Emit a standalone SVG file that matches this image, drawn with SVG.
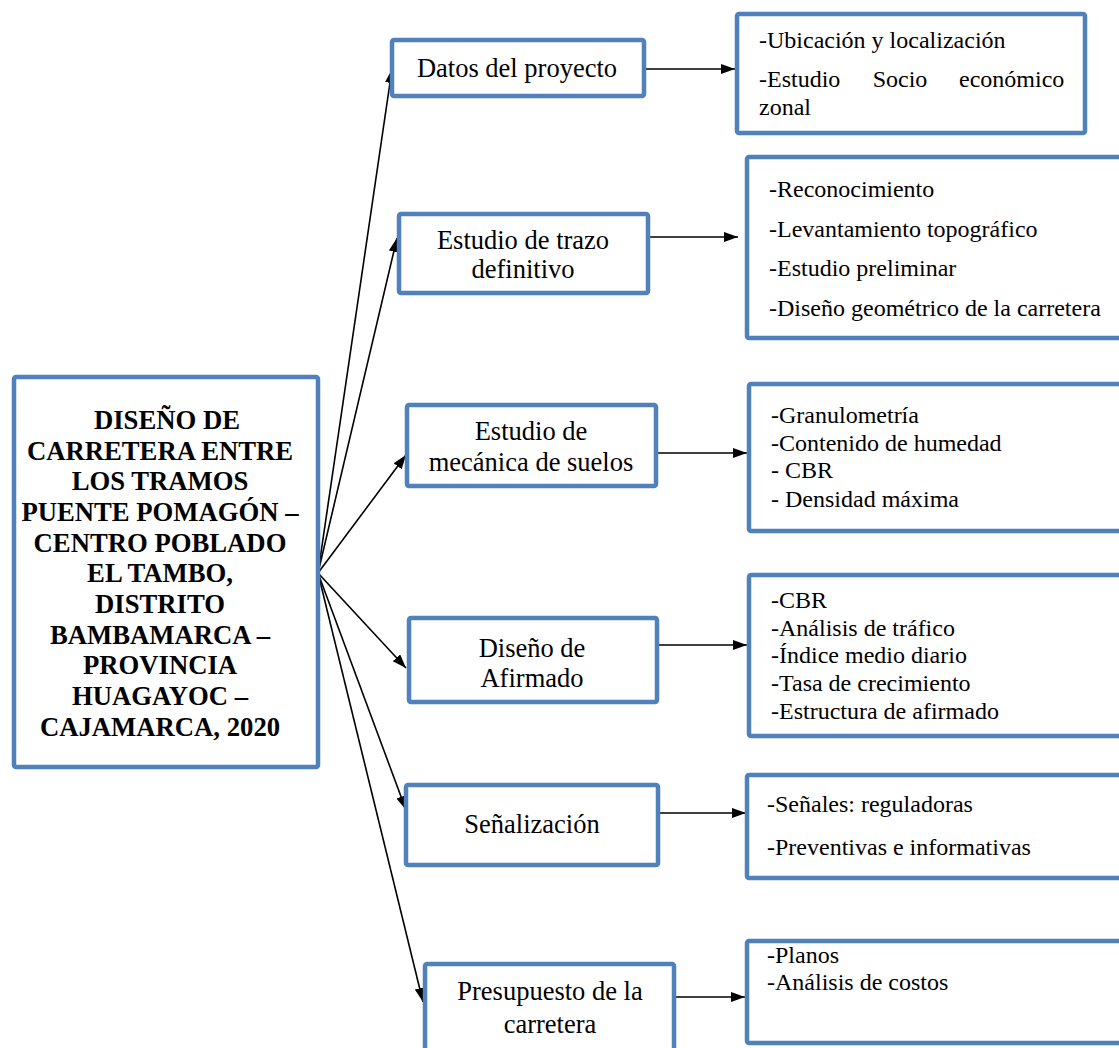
<svg xmlns="http://www.w3.org/2000/svg" width="1119" height="1048" viewBox="0 0 1119 1048">
<style>
.box{fill:#fff;stroke:#4F81BD;stroke-width:4.5}
.t{font-family:"Liberation Serif","Times New Roman",serif;fill:#000}
.main{font-size:26.7px;font-weight:bold;text-anchor:middle}
.mid{font-size:26.5px;text-anchor:middle}
.sm{font-size:24px}
.c{stroke:#000;stroke-width:1.6;fill:none;marker-end:url(#ah)}
</style>
<defs>
<marker id="ah" markerUnits="userSpaceOnUse" markerWidth="15" markerHeight="11" refX="14" refY="5" orient="auto">
<path d="M0,0 L14,5 L0,10 z" fill="#000"/>
</marker>
</defs>
<rect width="1119" height="1048" fill="#fff"/>
<g id="connectors">
<line class="c" x1="318" y1="573" x2="392" y2="69"/>
<line class="c" x1="318" y1="573" x2="397" y2="238"/>
<line class="c" x1="318" y1="573" x2="406" y2="455"/>
<line class="c" x1="318" y1="573" x2="406" y2="668"/>
<line class="c" x1="318" y1="573" x2="406" y2="810"/>
<line class="c" x1="318" y1="573" x2="423" y2="1002"/>
<line class="c" x1="646" y1="69" x2="735" y2="69"/>
<line class="c" x1="650" y1="237" x2="738" y2="237"/>
<line class="c" x1="658" y1="453" x2="747" y2="453"/>
<line class="c" x1="659" y1="645" x2="747" y2="645"/>
<line class="c" x1="660" y1="813" x2="746" y2="813"/>
<line class="c" x1="676" y1="997" x2="745" y2="997"/>
</g>
<g id="main">
<rect class="box" x="14" y="377" width="304" height="390" rx="2"/>
<text class="t main"><tspan x="167" y="429">DISEÑO DE</tspan><tspan x="160" y="459.7">CARRETERA ENTRE</tspan><tspan x="160" y="490.3">LOS TRAMOS</tspan><tspan x="160" y="521">PUENTE POMAGÓN –</tspan><tspan x="160" y="551.7">CENTRO POBLADO</tspan><tspan x="160" y="582.3">EL TAMBO,</tspan><tspan x="160" y="613">DISTRITO</tspan><tspan x="160" y="643.7">BAMBAMARCA –</tspan><tspan x="160" y="674.3">PROVINCIA</tspan><tspan x="160" y="705">HUAGAYOC –</tspan><tspan x="160" y="735.7">CAJAMARCA, 2020</tspan></text>
</g>
<g id="datos">
<rect class="box" x="392" y="40" width="252" height="56" rx="2"/>
<text class="t mid" x="517" y="77">Datos del proyecto</text>
</g>
<g id="trazo">
<rect class="box" x="399" y="214" width="249" height="79" rx="2"/>
<text class="t mid"><tspan x="523" y="249">Estudio de trazo</tspan><tspan x="523" y="278">definitivo</tspan></text>
</g>
<g id="suelos">
<rect class="box" x="407" y="405" width="249" height="81" rx="2"/>
<text class="t mid"><tspan x="531" y="440">Estudio de</tspan><tspan x="531" y="471">mecánica de suelos</tspan></text>
</g>
<g id="afirmado">
<rect class="box" x="409" y="618" width="248" height="84" rx="2"/>
<text class="t mid"><tspan x="532" y="657">Diseño de</tspan><tspan x="532" y="687">Afirmado</tspan></text>
</g>
<g id="senalizacion">
<rect class="box" x="406" y="785" width="252" height="80" rx="2"/>
<text class="t mid" x="532" y="833">Señalización</text>
</g>
<g id="presupuesto">
<rect class="box" x="425" y="964" width="249" height="110" rx="2"/>
<text class="t mid"><tspan x="550" y="1000">Presupuesto de la</tspan><tspan x="550" y="1033">carretera</tspan></text>
</g>
<g id="r1">
<rect class="box" x="737" y="14" width="348" height="119" rx="2"/>
<text class="t sm"><tspan x="759" y="48">-Ubicación y localización</tspan><tspan x="759" y="87">-Estudio</tspan><tspan x="872.7" y="87">Socio</tspan><tspan x="959" y="87">económico</tspan><tspan x="759" y="115">zonal</tspan></text>
</g>
<g id="r2">
<rect class="box" x="747" y="157" width="400" height="181" rx="2"/>
<text class="t sm"><tspan x="769" y="197">-Reconocimiento</tspan><tspan x="769" y="237">-Levantamiento topográfico</tspan><tspan x="769" y="276">-Estudio preliminar</tspan><tspan x="769" y="316">-Diseño geométrico de la carretera</tspan></text>
</g>
<g id="r3">
<rect class="box" x="749" y="384" width="400" height="147" rx="2"/>
<text class="t sm"><tspan x="771" y="423">-Granulometría</tspan><tspan x="771" y="451">-Contenido de humedad</tspan><tspan x="771" y="478">- CBR</tspan><tspan x="771" y="507">- Densidad máxima</tspan></text>
</g>
<g id="r4">
<rect class="box" x="749" y="575" width="400" height="161" rx="2"/>
<text class="t sm"><tspan x="771" y="608">-CBR</tspan><tspan x="771" y="636">-Análisis de tráfico</tspan><tspan x="771" y="663">-Índice medio diario</tspan><tspan x="771" y="691">-Tasa de crecimiento</tspan><tspan x="771" y="719">-Estructura de afirmado</tspan></text>
</g>
<g id="r5">
<rect class="box" x="747" y="775" width="400" height="103" rx="2"/>
<text class="t sm"><tspan x="767" y="812">-Señales: reguladoras</tspan><tspan x="767" y="855">-Preventivas e informativas</tspan></text>
</g>
<g id="r6">
<rect class="box" x="747" y="941" width="400" height="102" rx="2"/>
<text class="t sm"><tspan x="767" y="963">-Planos</tspan><tspan x="767" y="990">-Análisis de costos</tspan></text>
</g>
</svg>
